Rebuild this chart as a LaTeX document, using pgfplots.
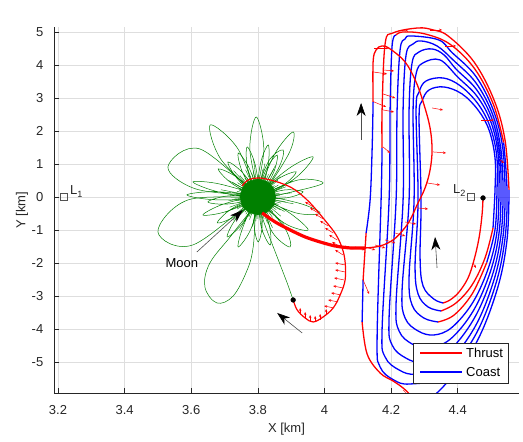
\documentclass[border=0pt]{standalone}
\usepackage{fontspec}
\setmainfont{Liberation Sans}
\usepackage{pgfplots}
\pgfplotsset{compat=1.18}
\usetikzlibrary{arrows.meta}
\definecolor{mgreen}{rgb}{0,0.5,0}
\definecolor{mred}{rgb}{1,0,0}
\definecolor{mblue}{rgb}{0,0,1}
\definecolor{ax}{rgb}{0.15,0.15,0.15}
\newcommand\mf{\fontsize{13}{15}\selectfont}
\begin{document}
\begin{tikzpicture}
\path[use as bounding box] (-54pt,-49pt) rectangle (469pt,393pt);
\begin{axis}[
  at={(0,0)}, anchor=south west,
  scale only axis, width=465pt, height=366pt,
  xmin=3.188, xmax=4.584, ymin=-5.94, ymax=5.15,
  axis x line*=bottom, axis y line*=left,
  axis line style={-, ax, line width=0.6pt},
  xtick={3.2,3.4,3.6,3.8,4.0,4.2,4.4},
  xticklabels={3.2,3.4,3.6,3.8,4,4.2,4.4},
  ytick={-5,-4,-3,-2,-1,0,1,2,3,4,5},
  yticklabels={-5,-4,-3,-2,-1,0,1,2,3,4,5},
  tick align=inside, major tick length=5pt,
  tick style={ax, line width=0.6pt},
  grid=major, major grid style={black!13, line width=0.5pt},
  ticklabel style={font=\mf, text=ax},
  xticklabel style={anchor=center, yshift=-17pt},
  yticklabel style={anchor=east, inner sep=0pt, xshift=-10.5pt},
  xlabel={X [km]}, ylabel={Y [km]},
  label style={font=\mf, text=ax},
  xlabel style={at={(axis description cs:0.5,-0.098)}, anchor=center},
  ylabel style={at={(axis description cs:-0.069,0.5)}, anchor=center},
  /pgf/number format/assume math mode=true,
]
% ---------------- green Moon orbits ----------------
\addplot[mgreen, line width=0.4pt, forget plot] coordinates {(3.801,0) (3.884,0) (3.801,0) (3.865,0.116) (3.801,0) (3.885,0.311) (3.801,0) (3.862,0.364) (3.801,0) (3.860,0.507) (3.801,0) (3.839,0.464) (3.801,0) (3.848,0.840) (3.801,0) (3.825,0.684) (3.801,0) (3.815,0.836) (3.801,0) (3.800,0.667) (3.801,0) (3.786,0.776) (3.801,0) (3.769,0.854) (3.801,0) (3.767,0.577) (3.801,0) (3.746,0.650) (3.801,0) (3.745,0.468) (3.801,0) (3.722,0.455) (3.801,0) (3.744,0.207) (3.801,0) (3.723,0.137) (3.801,0) (3.716,0) (3.801,0) (3.735,-0.116) (3.801,0) (3.715,-0.311) (3.801,0) (3.738,-0.364) (3.801,0) (3.740,-0.507) (3.801,0) (3.761,-0.464) (3.801,0) (3.758,-0.735) (3.801,0) (3.775,-0.684) (3.801,0) (3.784,-0.895) (3.801,0) (3.800,-0.667) (3.801,0) (3.814,-0.776) (3.801,0) (3.829,-0.797) (3.801,0) (3.836,-0.630) (3.801,0) (3.839,-0.464) (3.801,0) (3.869,-0.584) (3.801,0) (3.868,-0.394) (3.801,0) (3.862,-0.228) (3.801,0) (3.883,-0.148) (3.801,0)};
\addplot[mgreen, line width=0.4pt, forget plot] coordinates {(3.801,0) (3.866,0.058) (3.801,0) (3.853,0.141) (3.801,0) (3.866,0.308) (3.801,0) (3.850,0.348) (3.801,0) (3.849,0.493) (3.801,0) (3.833,0.472) (3.801,0) (3.832,0.686) (3.801,0) (3.817,0.615) (3.801,0) (3.806,0.664) (3.801,0) (3.796,0.543) (3.801,0) (3.782,0.702) (3.801,0) (3.775,0.549) (3.801,0) (3.761,0.571) (3.801,0) (3.760,0.407) (3.801,0) (3.739,0.435) (3.801,0) (3.744,0.269) (3.801,0) (3.737,0.173) (3.801,0) (3.747,0.047) (3.801,0) (3.729,-0.063) (3.801,0) (3.743,-0.157) (3.801,0) (3.738,-0.295) (3.801,0) (3.754,-0.330) (3.801,0) (3.748,-0.536) (3.801,0) (3.764,-0.521) (3.801,0) (3.773,-0.604) (3.801,0) (3.787,-0.527) (3.801,0) (3.794,-0.724) (3.801,0) (3.806,-0.604) (3.801,0) (3.819,-0.673) (3.801,0) (3.825,-0.522) (3.801,0) (3.844,-0.620) (3.801,0) (3.845,-0.450) (3.801,0) (3.855,-0.383) (3.801,0) (3.850,-0.231) (3.801,0) (3.870,-0.188) (3.801,0) (3.860,-0.053) (3.801,0)};
\addplot[mgreen, line width=0.4pt, forget plot] coordinates {(3.801,0) (3.902,0.126) (3.801,0) (3.904,0.487) (3.801,0) (3.867,0.620) (3.801,0) (3.853,0.955) (3.801,0) (3.821,1.012) (3.801,0) (3.787,1.143) (3.801,0) (3.763,0.824) (3.801,0) (3.727,0.797) (3.801,0) (3.712,0.500) (3.801,0) (3.689,0.220) (3.801,0) (3.712,-0.111) (3.801,0) (3.703,-0.461) (3.801,0) (3.726,-0.703) (3.801,0) (3.745,-1.007) (3.801,0) (3.784,-0.893) (3.801,0) (3.814,-1.083) (3.801,0) (3.844,-0.933) (3.801,0) (3.879,-0.842) (3.801,0) (3.880,-0.441) (3.801,0) (3.907,-0.208) (3.801,0)};
\addplot[fill=mgreen, draw=mgreen, line width=0.4pt, forget plot] coordinates {(3.854,0) (3.847,0.273) (3.827,0.472) (3.800,0.545) (3.773,0.472) (3.753,0.273) (3.746,0) (3.753,-0.273) (3.773,-0.472) (3.800,-0.545) (3.827,-0.472) (3.847,-0.273)} -- cycle;
% medium petals
\addplot[mgreen, line width=0.5pt, smooth, tension=0.6, forget plot] coordinates {(3.801,0) (3.880,0.212) (3.936,0.152) (3.883,-0.030) (3.801,0) (3.862,0.554) (3.915,0.758) (3.876,0.355) (3.801,0) (3.824,0.812) (3.858,1.273) (3.846,0.715) (3.801,0) (3.807,0.970) (3.831,1.576) (3.830,0.921) (3.801,0) (3.769,0.882) (3.768,1.515) (3.793,0.936) (3.801,0) (3.754,0.748) (3.741,1.333) (3.775,0.851) (3.801,0) (3.738,0.558) (3.710,1.061) (3.756,0.715) (3.801,0) (3.722,0.409) (3.681,0.848) (3.735,0.609) (3.801,0) (3.681,0.155) (3.605,0.455) (3.686,0.391) (3.801,0) (3.672,-0.085) (3.587,0.061) (3.673,0.158) (3.801,0) (3.712,-0.212) (3.650,-0.152) (3.709,0.030) (3.801,0) (3.705,-0.442) (3.635,-0.545) (3.698,-0.212) (3.801,0) (3.733,-0.576) (3.678,-0.788) (3.720,-0.370) (3.801,0) (3.754,-0.800) (3.708,-1.212) (3.735,-0.654) (3.801,0) (3.780,-0.951) (3.741,-1.515) (3.757,-0.867) (3.801,0) (3.813,-0.818) (3.801,-1.364) (3.789,-0.818) (3.801,0) (3.834,-0.842) (3.837,-1.454) (3.810,-0.903) (3.801,0)};
% large petals
\addplot[mgreen, line width=0.5pt, smooth, tension=0.6, forget plot] coordinates {(3.801,0) (3.921,0.515) (3.996,0.424) (3.915,0.182) (3.801,0) (3.891,0.848) (3.966,1.212) (3.909,0.545) (3.801,0) (3.831,1.061) (3.876,1.424) (3.861,0.848) (3.801,0) (3.849,1.273) (3.906,1.970) (3.891,1.273) (3.801,0) (3.818,1.460) (3.795,2.424) (3.776,1.448) (3.801,0) (3.739,1.476) (3.657,2.182) (3.689,1.142) (3.801,0) (3.626,1.454) (3.530,0.909) (3.614,0.242) (3.801,0) (3.590,-0.091) (3.500,-1.061) (3.605,-1.454) (3.801,0) (3.726,-1.091) (3.656,-2.0) (3.641,-2.727) (3.677,-3.212) (3.726,-3.0) (3.768,-2.212) (3.786,-1.515) (3.801,0) (3.843,-1.061) (3.897,-1.515) (3.879,-0.909) (3.801,0) (3.891,-0.455) (3.951,-1.0) (3.879,-0.788) (3.801,0) (3.921,-0.182) (3.987,-0.485) (3.915,-0.485) (3.801,0)};
\addplot[mgreen, line width=0.5pt, smooth, forget plot] coordinates {(3.801,0) (3.816,-0.697) (3.858,-1.818) (3.888,-2.606) (3.906,-3.121)};

% ---------------- spiral around L2 ----------------
\pgfplotsset{bl/.style={mblue, line width=1.3pt, smooth, tension=0.6, forget plot}, rd/.style={mred, line width=1.3pt, smooth, tension=0.6, forget plot}}
\addplot[rd] coordinates {(4.476,-0.030) (4.473,-0.545) (4.464,-1.242) (4.449,-1.909) (4.431,-2.455) (4.404,-2.879) (4.377,-3.121) (4.356,-3.212)};
\addplot[bl] coordinates {(4.356,-3.212) (4.328,-3.091) (4.296,-2.697) (4.287,-1.848) (4.290,-0.091) (4.284,2.424) (4.293,2.909) (4.314,3.242) (4.359,3.333) (4.413,3.121) (4.461,2.636) (4.494,2.030) (4.512,1.182) (4.512,0.212) (4.506,-0.939)};
\addplot[rd] coordinates {(4.506,-0.939) (4.482,-1.848) (4.443,-2.667) (4.395,-3.212) (4.350,-3.455)};
\addplot[bl] coordinates {(4.350,-3.455) (4.311,-3.333) (4.281,-2.939) (4.272,-2.091) (4.281,-0.091) (4.275,2.636) (4.284,3.182) (4.305,3.515) (4.356,3.606) (4.407,3.373) (4.459,2.846) (4.496,2.161) (4.517,1.261) (4.518,0.212) (4.512,-0.991) (4.487,-1.988)};
\addplot[rd] coordinates {(4.487,-1.988) (4.444,-2.927) (4.389,-3.579) (4.341,-3.788)};
\addplot[bl] coordinates {(4.341,-3.788) (4.298,-3.667) (4.263,-3.273) (4.254,-2.424) (4.269,-0.091) (4.266,2.636) (4.275,3.727) (4.296,4.061) (4.347,4.152) (4.401,3.624) (4.458,3.052) (4.499,2.291) (4.521,1.336) (4.524,0.212) (4.518,-1.042) (4.493,-2.124) (4.446,-3.185) (4.383,-3.949) (4.329,-4.182)
 (4.281,-4.061) (4.242,-3.667) (4.233,-2.818) (4.254,-0.091) (4.254,2.636) (4.263,4.061) (4.284,4.394) (4.323,4.485) (4.359,4.303) (4.395,3.876) (4.456,3.261) (4.501,2.421) (4.525,1.415) (4.530,0.212) (4.524,-1.094) (4.498,-2.264) (4.447,-3.446) (4.377,-4.315) (4.311,-4.576)
 (4.263,-4.455) (4.224,-4.061) (4.215,-3.212) (4.236,-0.091) (4.236,2.636) (4.245,4.303) (4.266,4.636) (4.290,4.727) (4.338,4.576) (4.389,4.124) (4.454,3.467) (4.503,2.549) (4.529,1.494) (4.536,0.212) (4.530,-1.149) (4.503,-2.403) (4.448,-3.706) (4.371,-4.685) (4.293,-5.0)
 (4.244,-4.879) (4.203,-4.485) (4.194,-3.636) (4.215,-0.091) (4.218,2.636) (4.227,4.455) (4.242,4.788) (4.260,4.879) (4.343,4.758) (4.383,4.376) (4.453,3.676) (4.505,2.679) (4.534,1.573) (4.542,0.212) (4.536,-1.2) (4.508,-2.542) (4.450,-3.967) (4.365,-5.052) (4.275,-5.364)
 (4.224,-5.242) (4.182,-4.848) (4.173,-4.0) (4.194,-0.091) (4.197,2.636) (4.203,4.576) (4.215,4.909)};
\addplot[rd] coordinates {(4.215,4.909) (4.236,5.0) (4.302,4.939) (4.377,4.627) (4.451,3.882) (4.507,2.809) (4.538,1.648)};
\addplot[bl] coordinates {(4.538,1.648) (4.548,0.212) (4.542,-1.252) (4.513,-2.679) (4.451,-4.224) (4.359,-5.421) (4.257,-5.667) (4.208,-5.545) (4.167,-5.152) (4.158,-4.303) (4.170,-0.091) (4.173,1.485)};
\addplot[rd] coordinates {(4.173,1.485) (4.173,2.636) (4.182,4.636) (4.206,4.970) (4.281,5.121) (4.326,5.061) (4.371,4.879) (4.449,4.091) (4.509,2.939) (4.542,1.727) (4.554,0.212)};
\addplot[bl] coordinates {(4.554,0.212) (4.548,-1.303) (4.518,-2.818) (4.452,-4.485) (4.353,-5.788) (4.287,-6.303)};
\addplot[rd] coordinates {(4.263,-6.212) (4.257,-6.0) (4.236,-5.788) (4.206,-5.576) (4.167,-5.333) (4.128,-4.758) (4.113,-3.788)};
\addplot[bl] coordinates {(4.113,-3.788) (4.116,-2.515)};
\addplot[rd] coordinates {(4.116,-2.515) (4.125,-1.091)};
\addplot[bl] coordinates {(4.125,-1.091) (4.137,-0.091) (4.143,1.424) (4.146,2.879)};
\addplot[rd] coordinates {(4.146,2.879) (4.146,4.091) (4.155,4.455) (4.173,4.576) (4.197,4.485) (4.242,4.091) (4.275,3.485) (4.299,2.788) (4.317,2.091) (4.323,1.424) (4.317,0.818) (4.302,0.273) (4.278,-0.242) (4.257,-0.697) (4.236,-1.0) (4.206,-1.303) (4.167,-1.485) (4.122,-1.545) (4.077,-1.545) (4.032,-1.485) (3.987,-1.364) (3.942,-1.212) (3.897,-1.0) (3.852,-0.758) (3.813,-0.485)};
\addplot[mred, line width=3.2pt, smooth, forget plot] coordinates {(4.122,-1.545) (4.077,-1.545) (4.032,-1.485) (3.987,-1.364) (3.942,-1.212) (3.897,-1.0) (3.852,-0.758) (3.813,-0.485)};
% spiral near the Moon
\addplot[mred, line width=1.2pt, smooth, tension=0.6, forget plot] coordinates {(3.906,-3.121) (3.918,-3.424) (3.942,-3.667) (3.966,-3.788) (3.996,-3.636) (4.026,-3.364) (4.047,-2.970) (4.062,-2.515) (4.062,-1.970) (4.053,-1.545) (4.035,-1.152) (4.008,-0.788) (3.957,-0.182) (3.912,0.212) (3.876,0.394) (3.837,0.515) (3.801,0.576) (3.771,0.515) (3.753,0.333)};

% ---------------- thrust direction arrows ----------------
\addplot[mred, line width=0.5pt, -{Stealth[length=3pt,width=2.5pt]}, quiver={u=\thisrow{u}, v=\thisrow{v}}, forget plot] table[row sep=\\] {
x y u v\\
4.149 4.515 0.045 0\\
4.146 3.788 0.042 -0.061\\
4.149 2.879 0.036 -0.152\\
4.176 3.848 0.033 -0.030\\
4.176 3.121 0.036 -0.121\\
4.176 2.636 0.033 -0.061\\
4.176 1.515 0.021 -0.182\\
4.221 5.030 0.030 0.030\\
4.317 5.061 0.036 0\\
4.362 4.576 0.033 0\\
4.470 2.333 0.039 0\\
4.323 2.697 0.033 -0.061\\
4.326 1.364 0.039 -0.030\\
4.308 0.424 0.039 -0.061\\
4.278 -0.333 0.033 -0.030\\
4.242 -0.758 0.033 -0.061\\
4.212 -1.091 0.030 -0.091\\
4.182 -1.303 0.030 -0.091\\
4.152 -1.455 0.030 -0.091\\
4.122 -1.515 0.030 -0.091\\
4.092 -1.515 0.030 -0.091\\
4.062 -1.485 0.027 -0.091\\
4.038 -1.455 0.027 -0.091\\
4.010 -1.420 0.027 -0.091\\
4.116 -2.515 0.018 -0.424\\
4.236 -5.848 0.024 -0.242\\
4.446 -2.0 0.009 -0.152\\
4.527 1.121 0.012 -0.091\\
3.966 -0.303 -0.024 0.152\\
3.981 -0.485 -0.024 0.152\\
3.996 -0.667 -0.024 0.152\\
4.011 -0.879 -0.024 0.152\\
4.026 -1.091 -0.024 0.152\\
4.038 -1.303 -0.024 0.152\\
4.047 -1.515 -0.024 0.152\\
4.056 -1.758 -0.024 0.152\\
4.062 -2.061 -0.030 0.061\\
4.062 -2.273 -0.030 0.061\\
4.059 -2.515 -0.030 0.061\\
4.056 -2.758 -0.030 0.061\\
4.050 -2.970 -0.030 0.061\\
4.041 -3.182 -0.030 0.061\\
4.029 -3.364 -0.030 0.061\\
3.927 -3.545 0 0.182\\
3.942 -3.667 0 0.182\\
3.957 -3.758 0 0.182\\
3.972 -3.788 0 0.182\\
3.987 -3.727 0 0.182\\
4.005 -3.576 0 0.182\\
};

% ---------------- direction arrows ----------------
\addplot[black!70, line width=0.6pt, -{Stealth[length=13pt,width=9pt,inset=4pt,black]}, quiver={u=\thisrow{u}, v=\thisrow{v}}, forget plot] table[row sep=\\] {
x y u v\\
4.110 1.727 0 1.121\\
4.338 -2.152 -0.006 0.939\\
3.933 -4.121 -0.075 0.606\\
3.617 -1.667 0.138 1.273\\
};

% ---------------- markers ----------------
\addplot[only marks, mark=square, mark size=3.3pt, mark options={draw=ax!80, line width=0.5pt, fill=white}, forget plot] coordinates {(3.218,0) (4.440,0)};
\addplot[only marks, mark=*, mark size=2.4pt, black, forget plot] coordinates {(3.906,-3.121) (4.476,-0.030)};
\node[font=\mf, anchor=base west, inner sep=0pt, text=ax] at (axis cs:3.218,0) [xshift=6pt, yshift=2pt] {L\textsubscript{1}};
\node[font=\mf, anchor=base east, inner sep=0pt, text=ax] at (axis cs:4.440,0) [xshift=-5pt, yshift=3pt] {L\textsubscript{2}};
\node[font=\mf, anchor=center, text=black] at (axis cs:3.572,-2.0) {Moon};
\node[font=\mf, anchor=base west, inner sep=0pt, text=ax] at (rel axis cs:0,1) [xshift=1pt, yshift=4pt] {×10\textsuperscript{4}};
\node[font=\mf, anchor=base east, inner sep=0pt, text=ax] at (rel axis cs:1,0) [yshift=-44pt] {×10\textsuperscript{5}};
% ---------------- legend ----------------
\draw[ax, line width=0.5pt, fill=white] (rel axis cs:0.772,0.027) rectangle (rel axis cs:0.976,0.137);
\addplot[mred, line width=1.4pt, forget plot] coordinates {(4.2870,-4.73) (4.4126,-4.73)};
\node[font=\mf, anchor=west, inner sep=0pt, text=black] at (rel axis cs:0.886,0.109) {Thrust};
\addplot[mblue, line width=1.4pt, forget plot] coordinates {(4.2870,-5.308) (4.4126,-5.308)};
\node[font=\mf, anchor=west, inner sep=0pt, text=black] at (rel axis cs:0.886,0.057) {Coast};
\end{axis}
\end{tikzpicture}
\end{document}
